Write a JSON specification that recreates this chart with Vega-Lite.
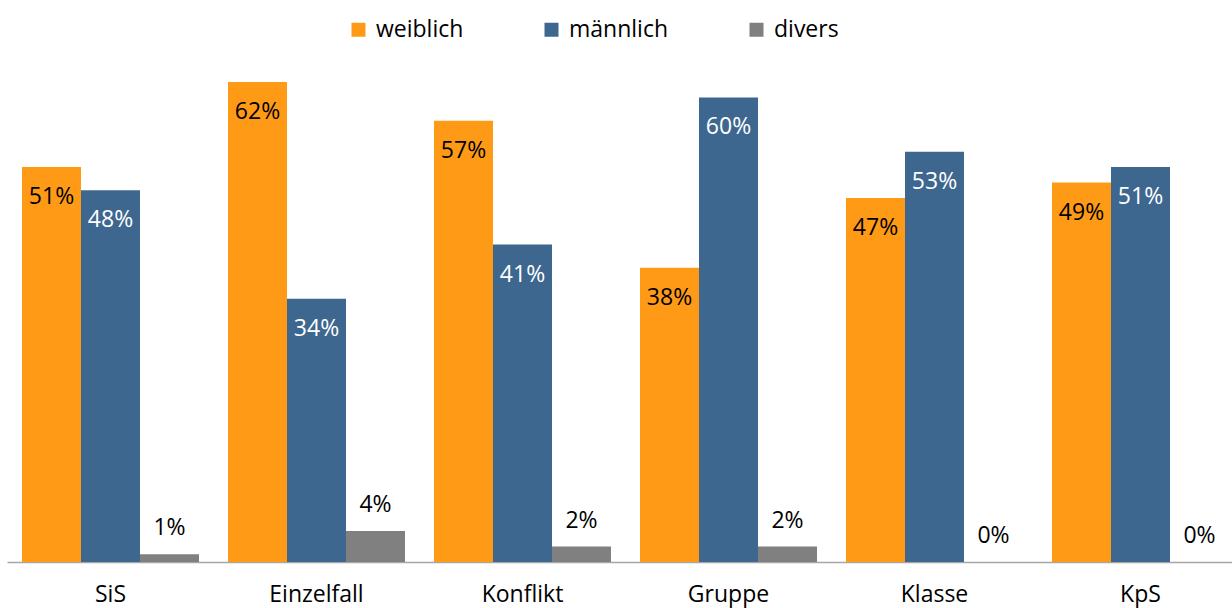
{
  "$schema": "https://vega.github.io/schema/vega-lite/v6.json",
  "width": 1225,
  "height": 542,
  "padding": {"left": 7, "top": 20, "right": 0, "bottom": 46},
  "autosize": {"type": "none"},
  "config": {
    "view": {"stroke": null},
    "font": "Open Sans",
    "text": {"font": "Open Sans"}
  },
  "data": {
    "values": [
      {"Bereich": "SiS", "Geschlecht": "weiblich", "Anteil": 0.51},
      {"Bereich": "SiS", "Geschlecht": "männlich", "Anteil": 0.48},
      {"Bereich": "SiS", "Geschlecht": "divers", "Anteil": 0.01},
      {"Bereich": "Einzelfall", "Geschlecht": "weiblich", "Anteil": 0.62},
      {"Bereich": "Einzelfall", "Geschlecht": "männlich", "Anteil": 0.34},
      {"Bereich": "Einzelfall", "Geschlecht": "divers", "Anteil": 0.04},
      {"Bereich": "Konflikt", "Geschlecht": "weiblich", "Anteil": 0.57},
      {"Bereich": "Konflikt", "Geschlecht": "männlich", "Anteil": 0.41},
      {"Bereich": "Konflikt", "Geschlecht": "divers", "Anteil": 0.02},
      {"Bereich": "Gruppe", "Geschlecht": "weiblich", "Anteil": 0.38},
      {"Bereich": "Gruppe", "Geschlecht": "männlich", "Anteil": 0.60},
      {"Bereich": "Gruppe", "Geschlecht": "divers", "Anteil": 0.02},
      {"Bereich": "Klasse", "Geschlecht": "weiblich", "Anteil": 0.47},
      {"Bereich": "Klasse", "Geschlecht": "männlich", "Anteil": 0.53},
      {"Bereich": "Klasse", "Geschlecht": "divers", "Anteil": 0.0},
      {"Bereich": "KpS", "Geschlecht": "weiblich", "Anteil": 0.49},
      {"Bereich": "KpS", "Geschlecht": "männlich", "Anteil": 0.51},
      {"Bereich": "KpS", "Geschlecht": "divers", "Anteil": 0.0}
    ]
  },
  "encoding": {
    "x": {
      "field": "Bereich",
      "type": "nominal",
      "sort": ["SiS", "Einzelfall", "Konflikt", "Gruppe", "Klasse", "KpS"],
      "scale": {"paddingInner": 0.1408, "paddingOuter": 0.0437, "align": 0.833},
      "axis": {
        "title": null,
        "labelAngle": 0,
        "labelFontSize": 23,
        "labelColor": "#000000",
        "labelPadding": 21,
        "ticks": false,
        "domainColor": "#a6a6a6",
        "domainWidth": 1.5
      }
    },
    "xOffset": {
      "field": "Geschlecht",
      "type": "nominal",
      "sort": ["weiblich", "männlich", "divers"],
      "scale": {"paddingInner": 0, "paddingOuter": 0}
    },
    "y": {
      "field": "Anteil",
      "type": "quantitative",
      "scale": {"domain": [0, 0.7]},
      "axis": null
    }
  },
  "layer": [
    {
      "mark": {"type": "bar"},
      "encoding": {
        "color": {
          "field": "Geschlecht",
          "type": "nominal",
          "sort": ["weiblich", "männlich", "divers"],
          "scale": {
            "domain": ["weiblich", "männlich", "divers"],
            "range": ["#FF9A17", "#3D678F", "#808080"]
          },
          "legend": {
            "title": null,
            "orient": "none",
            "direction": "horizontal",
            "legendX": 340,
            "legendY": -2,
            "padding": 0,
            "symbolType": "square",
            "symbolSize": 196,
            "symbolStrokeWidth": 0,
            "labelFontSize": 23,
            "labelColor": "#000000",
            "labelOffset": 6,
            "columnPadding": 76
          }
        }
      }
    },
    {
      "transform": [{"filter": "datum.Geschlecht !== 'divers'"}],
      "mark": {"type": "text", "baseline": "middle", "dy": 30, "fontSize": 23},
      "encoding": {
        "text": {"field": "Anteil", "type": "quantitative", "format": ".0%"},
        "color": {
          "condition": {"test": "datum.Geschlecht === 'männlich'", "value": "#ffffff"},
          "value": "#000000"
        }
      }
    },
    {
      "transform": [{"filter": "datum.Geschlecht === 'divers'"}],
      "mark": {"type": "text", "baseline": "middle", "dy": -26, "fontSize": 23, "color": "#000000"},
      "encoding": {
        "text": {"field": "Anteil", "type": "quantitative", "format": ".0%"}
      }
    }
  ]
}
